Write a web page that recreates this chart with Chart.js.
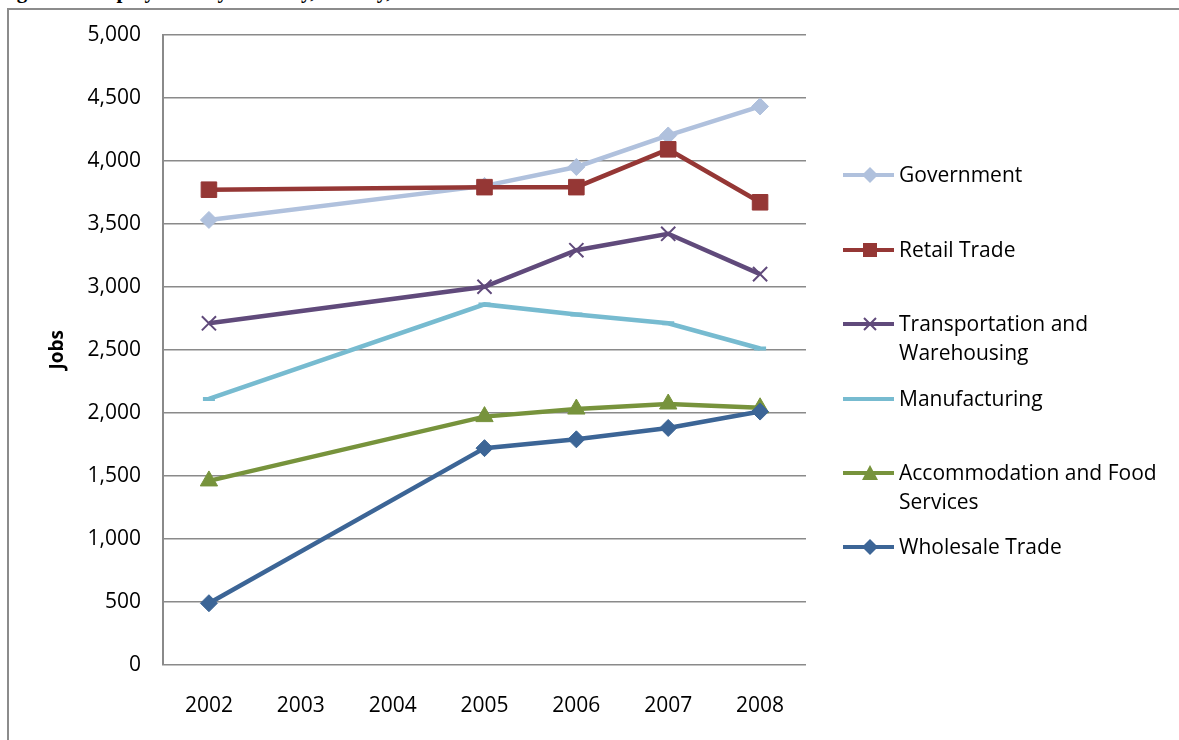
<!DOCTYPE html>
<html>
<head>
<meta charset="utf-8">
<script src="https://cdn.jsdelivr.net/npm/chart.js@4.4.1/dist/chart.umd.min.js"></script>
<style>
  html, body { margin: 0; padding: 0; background: #fff; overflow: hidden; }
  #wrap { position: relative; width: 1179px; height: 740px; }
  #title { position: absolute; left: -2px; top: -21px; font: bold 21px "Liberation Serif", serif; color: #000; white-space: nowrap; }
  #frame { position: absolute; left: 7px; top: 8px; width: 1200px; height: 760px; border: 2px solid #8c8c8c; box-sizing: border-box; }
  #myChart { position: absolute; left: 0; top: 0; }
  #legend { position: absolute; left: 843px; top: 0; font: 21px "Open Sans", sans-serif; color: #000; }
  .item { position: absolute; left: 0; white-space: nowrap; }
  .item svg { position: absolute; left: 0; top: 0; }
  .item span { position: absolute; left: 56px; top: -15px; line-height: 29px; }
</style>
</head>
<body>
<div id="wrap">
  <div id="title">Figure 4: Employment by Industry, County, 2002-2008</div>
  <div id="frame"></div>
  <canvas id="myChart" width="1179" height="740"></canvas>
  <div id="legend"></div>
</div>
<script>
const years = ["2002", "2003", "2004", "2005", "2006", "2007", "2008"];
const government = [3530, null, null, 3800, 3950, 4200, 4430];
const retailTrade = [3770, null, null, 3790, 3790, 4090, 3670];
const transportation = [2710, null, null, 3000, 3290, 3420, 3100];
const manufacturing = [2110, null, null, 2860, 2780, 2710, 2510];
const accommodation = [1460, null, null, 1970, 2030, 2070, 2040];
const wholesaleTrade = [490, null, null, 1720, 1790, 1880, 2010];
const yTicks = [0, 500, 1000, 1500, 2000, 2500, 3000, 3500, 4000, 4500, 5000];

const series = [
    { label: ["Government"], data: government, color: "#b0c1dd", style: "rectRot", radius: 8.5, y: 175 },
    { label: ["Retail Trade"], data: retailTrade, color: "#953735", style: "rect", radius: 11, y: 250 },
    { label: ["Transportation and", "Warehousing"], data: transportation, color: "#604a7b", style: "crossRot", radius: 10, y: 324 },
    { label: ["Manufacturing"], data: manufacturing, color: "#77bbd0", style: "line", radius: 6, y: 399 },
    { label: ["Accommodation and Food", "Services"], data: accommodation, color: "#77933c", style: "triangle", radius: 10, y: 473 },
    { label: ["Wholesale Trade"], data: wholesaleTrade, color: "#3c6596", style: "rectRot", radius: 8.5, y: 547 }
];

const markerSvg = (s) => {
    const c = s.color;
    let m = "";
    switch (s.style) {
        case "rectRot":
            m = `<polygon points="27,0 35,8 27,16 19,8" fill="${c}"/>`;
            break;
        case "rect":
            m = `<rect x="20" y="1" width="14" height="14" fill="${c}"/>`;
            break;
        case "crossRot":
            m = `<path d="M21,2 L33,14 M33,2 L21,14" stroke="${c}" stroke-width="2" fill="none"/>`;
            break;
        case "line":
            m = `<rect x="23" y="6" width="8" height="4" fill="${c}" opacity="0.8"/>`;
            break;
        case "triangle":
            m = `<polygon points="27,0 35,15 19,15" fill="${c}"/>`;
            break;
    }
    return `<svg width="54" height="16" style="top:-8px"><line x1="0" y1="8" x2="51" y2="8" stroke="${c}" stroke-width="4"/>${m}</svg>`;
}

const buildLegend = () => {
    const legend = document.getElementById("legend");
    for (let i = 0; i < series.length; i++) {
        const s = series[i];
        const item = document.createElement("div");
        item.className = "item";
        item.style.top = s.y + "px";
        item.innerHTML = markerSvg(s) + `<span>${s.label.join("<br>")}</span>`;
        legend.appendChild(item);
    }
}

const datasets = series.map((s) => ({
    label: s.label.join(" "),
    data: s.data,
    borderColor: s.color,
    backgroundColor: s.color,
    borderWidth: 4.5,
    pointStyle: s.style,
    pointRadius: s.radius,
    pointBorderWidth: s.style === "crossRot" ? 2 : (s.style === "line" ? 4 : 1),
    pointBackgroundColor: s.color,
    pointBorderColor: s.color,
    spanGaps: true,
    tension: 0
}));

// draw last series first so Government sits on top like the original
datasets.reverse();

const ctx = document.getElementById("myChart").getContext("2d");
const myChart = new Chart(ctx, {
    type: "line",
    data: { labels: years, datasets: datasets },
    options: {
        responsive: false,
        animation: false,
        devicePixelRatio: 1,
        layout: { padding: { left: 0, top: 33, right: 373, bottom: 0 } },
        plugins: { legend: { display: false }, tooltip: { enabled: false } },
        scales: {
            x: {
                offset: true,
                grid: { display: false, drawTicks: false },
                border: { display: false },
                ticks: { color: "#000", padding: 28, font: { family: "Open Sans", size: 21 }, maxRotation: 0 },
                afterFit: (scale) => { scale.height = 75; }
            },
            y: {
                min: 0,
                max: 5000,
                afterBuildTicks: (scale) => { scale.ticks = yTicks.map((v) => ({ value: v })); },
                grid: { color: "#8a8a8a", lineWidth: 1.6, drawTicks: false },
                border: { display: true, color: "#8a8a8a", width: 2 },
                ticks: {
                    color: "#000",
                    padding: 22,
                    font: { family: "Open Sans", size: 21 },
                    callback: (v) => v.toLocaleString("en-US")
                },
                title: {
                    display: true,
                    text: "Jobs",
                    color: "#000",
                    font: { family: "Open Sans", size: 19, weight: "bold" },
                    padding: { top: 46, bottom: 0 }
                },
                afterFit: (scale) => { scale.width = 163; }
            }
        }
    }
});

buildLegend();
</script>
</body>
</html>
